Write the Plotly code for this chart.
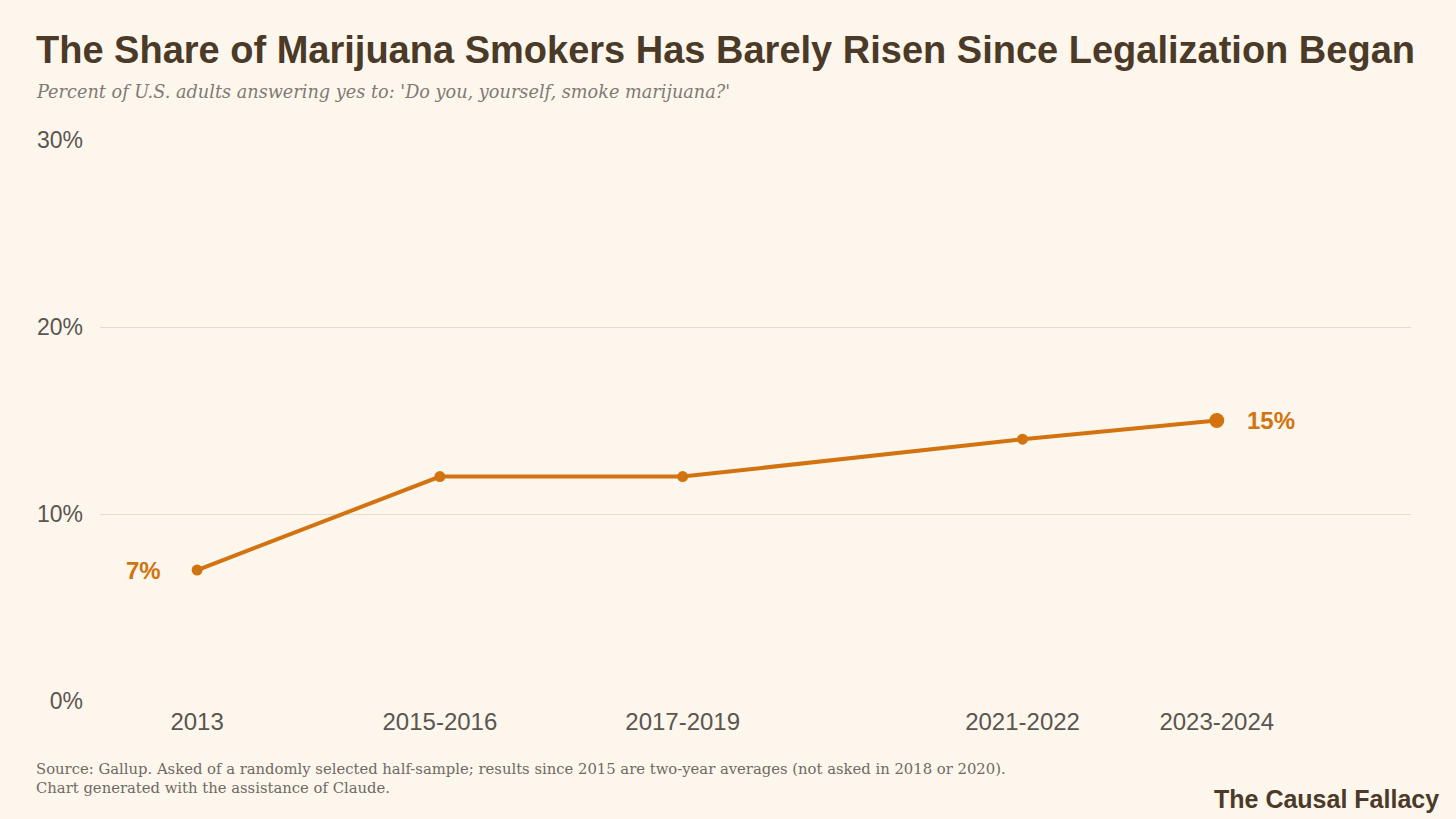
import plotly.graph_objects as go

# survey periods (labels), their mid-year positions, share of adults who smoke (%)
periods = ["2013", "2015-2016", "2017-2019", "2021-2022", "2023-2024"]
mid_years = [2013, 2015.5, 2018, 2021.5, 2023.5]
pct_smoke = [7, 12, 12, 14, 15]
y_ticks = [0, 10, 20, 30]

bg = "#FDF6EC"
orange = "#D2730F"
brown = "#4B3A27"

fig = go.Figure()
fig.add_trace(go.Scatter(
    x=mid_years, y=pct_smoke, mode="lines+markers",
    line=dict(color=orange, width=4),
    marker=dict(color=orange, size=[11, 11, 11, 11, 15], opacity=1, line=dict(width=0)),
    hoverinfo="skip", showlegend=False,
))

# end labels
fig.add_annotation(x=mid_years[0], y=pct_smoke[0], text="<b>%d%%</b>" % pct_smoke[0],
                   showarrow=False, xanchor="right", xshift=-34,
                   font=dict(family="Liberation Sans", size=24, color=orange))
fig.add_annotation(x=mid_years[-1], y=pct_smoke[-1], text="<b>%d%%</b>" % pct_smoke[-1],
                   showarrow=False, xanchor="left", xshift=28,
                   font=dict(family="Liberation Sans", size=24, color=orange))

# title, subtitle, footer
fig.add_annotation(xref="paper", yref="paper", x=-0.0505, y=1.16, xanchor="left", yanchor="middle",
                   text="<b>The Share of Marijuana Smokers Has Barely Risen Since Legalization Began</b>",
                   showarrow=False, font=dict(family="Liberation Sans", size=38, color=brown))
fig.add_annotation(xref="paper", yref="paper", x=-0.0505, y=1.086, xanchor="left", yanchor="middle",
                   text="<i>Percent of U.S. adults answering yes to: 'Do you, yourself, smoke marijuana?'</i>",
                   showarrow=False, font=dict(family="DejaVu Serif", size=17.7, color="#7F7A74"))
fig.add_annotation(xref="paper", yref="paper", x=-0.0505, y=-0.101, xanchor="left", yanchor="top",
                   align="left",
                   text="Source: Gallup. Asked of a randomly selected half-sample; results since 2015 are two-year averages (not asked in 2018 or 2020).<br>Chart generated with the assistance of Claude.",
                   showarrow=False, font=dict(family="DejaVu Serif", size=14.8, color="#6F6A64"))
fig.add_annotation(xref="paper", yref="paper", x=1.0229, y=-0.175, xanchor="right", yanchor="middle",
                   text="<b>The Causal Fallacy</b>",
                   showarrow=False, font=dict(family="Liberation Sans", size=25, color=brown))

fig.update_xaxes(range=[2012, 2025.5], tickvals=mid_years, ticktext=periods,
                 showgrid=False, zeroline=False, showline=False, ticks="",
                 ticklabelstandoff=4,
                 tickfont=dict(family="Liberation Sans", size=24, color="#5A5550"))
fig.update_yaxes(range=[0, 30], tickvals=y_ticks, ticktext=[f"{v}%" for v in y_ticks],
                 showgrid=True, gridcolor="#E4DCCD", gridwidth=1.3, zeroline=False,
                 showline=False, ticks="", ticklabelstandoff=16,
                 tickfont=dict(family="Liberation Sans", size=23, color="#5A5550"))

fig.update_layout(
    width=1456, height=819,
    paper_bgcolor=bg, plot_bgcolor=bg,
    margin=dict(l=100, r=45, t=140, b=118),
)

fig.write_html("out.html", config={"displayModeBar": False},
               post_script="document.body.style.margin='0';")
